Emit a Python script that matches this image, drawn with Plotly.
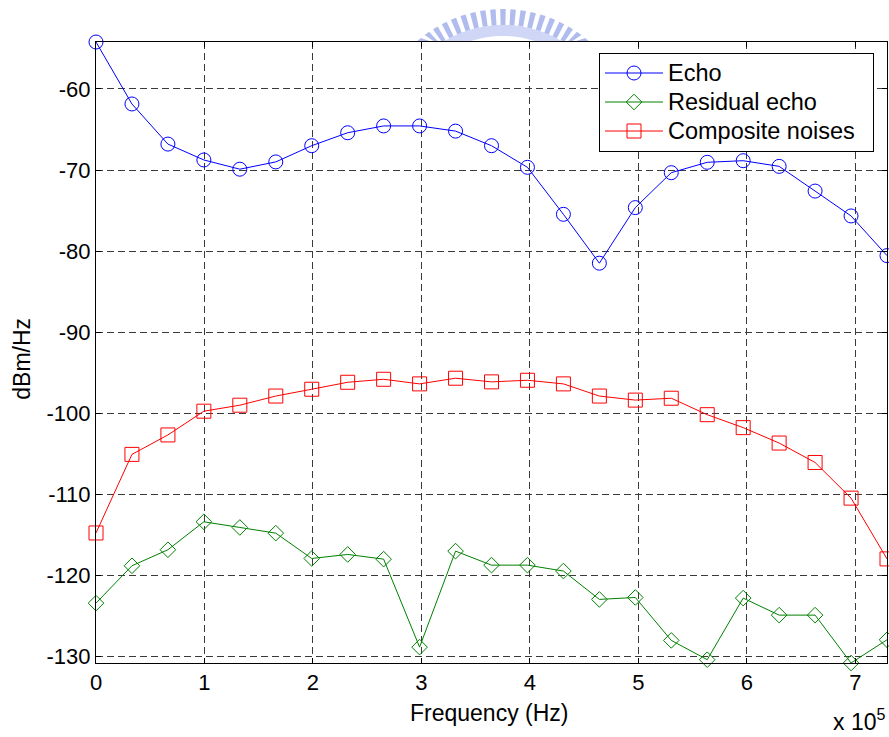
import math
import plotly.graph_objects as go

# Frequency bins (kHz)
freq_khz = [0, 33.14, 66.28, 99.42, 132.56, 165.70, 198.84, 231.98, 265.12, 298.26,
            331.40, 364.54, 397.68, 430.82, 463.96, 497.10, 530.24, 563.38, 596.52,
            629.66, 662.80, 695.94, 729.08]

echo = [-54.2, -61.85, -66.8, -68.76, -69.9, -69.0, -67.0, -65.4, -64.56, -64.56,
        -65.2, -67.0, -69.67, -75.47, -81.5, -74.64, -70.33, -69.05, -68.85, -69.55,
        -72.6, -75.67, -80.57]

residual_echo = [-123.46, -118.85, -116.87, -113.42, -114.12, -114.82, -117.95, -117.45,
                 -118.03, -128.89, -117.04, -118.77, -118.77, -119.5, -123.0, -122.76,
                 -128.06, -130.44, -122.84, -124.94, -124.94, -130.85, -127.98]

composite_noises = [-114.8, -105.1, -102.7, -99.77, -99.03, -97.9, -97.06, -96.2, -95.83,
                    -96.4, -95.7, -96.15, -95.95, -96.4, -97.9, -98.4, -98.17, -100.2,
                    -101.8, -103.7, -106.1, -110.5, -118.0]

x_ticks = [0, 1, 2, 3, 4, 5, 6, 7]          # in units of 1e5 Hz
y_ticks = [-60, -70, -80, -90, -100, -110, -120, -130]

freq_hz = [f * 1000 for f in freq_khz]

FONT = "Liberation Sans, Arial, Helvetica, sans-serif"


def legend_label(text, pad=0):
    # larger glyphs than the legend's base size, which keeps rows compact
    return f'<span style="font-size:23.5px">{text}{chr(160) * pad}</span>'


fig = go.Figure()
series = [
    ("Echo", echo, "#0000ff", "circle-open", 14, 0),
    ("Residual echo", residual_echo, "#008000", "diamond-open", 12, 0),
    ("Composite noises", composite_noises, "#ff0000", "square-open", 14, 2),
]
for name, vals, color, symbol, size, pad in series:
    fig.add_trace(go.Scatter(
        x=freq_hz, y=vals, name=legend_label(name, pad), mode="lines+markers",
        line=dict(color=color, width=1),
        marker=dict(symbol=symbol, size=size, color=color, line=dict(color=color, width=1)),
        cliponaxis=False,
    ))

# Layout geometry (pixels)
W, H = 889, 737
ML, MR, MT, MB = 96, 2, 42, 74
PW, PH = W - ML - MR, H - MT - MB


def to_paper(px, py):
    return (px - ML) / PW, (H - MB - py) / PH


# Light-blue seal emblem peeking over the top of the axes
cx, cy = 503, 140
top_limit = MT - 0.5


def poly_path(points):
    pts = [to_paper(x, min(y, top_limit)) for x, y in points]
    return "M" + "L".join(f"{a:.5f},{b:.5f}" for a, b in pts) + "Z"


shapes = []
seal_color = "rgba(150,165,232,0.75)"
band_color = "rgba(170,182,238,0.55)"
# base band
band = []
for k in range(0, 33):
    t = math.radians(-36 + k * 72 / 32)
    band.append((cx + 115 * math.sin(t), cy - 115 * math.cos(t)))
for k in range(32, -1, -1):
    t = math.radians(-36 + k * 72 / 32)
    band.append((cx + 104 * math.sin(t), cy - 104 * math.cos(t)))
shapes.append(dict(type="path", xref="paper", yref="paper", path=poly_path(band),
                   fillcolor=band_color, line=dict(width=0), layer="below"))
# teeth
n_teeth = 19
for k in range(n_teeth):
    t = math.radians(-40 + k * 80 / (n_teeth - 1))
    hw = math.radians(1.2)
    pts = [
        (cx + 115 * math.sin(t - hw), cy - 115 * math.cos(t - hw)),
        (cx + 131 * math.sin(t - hw), cy - 131 * math.cos(t - hw)),
        (cx + 131 * math.sin(t + hw), cy - 131 * math.cos(t + hw)),
        (cx + 115 * math.sin(t + hw), cy - 115 * math.cos(t + hw)),
    ]
    shapes.append(dict(type="path", xref="paper", yref="paper", path=poly_path(pts),
                       fillcolor=seal_color, line=dict(width=0), layer="below"))

axis_common = dict(
    showline=True, linecolor="black", linewidth=1, mirror="allticks",
    ticks="inside", ticklen=5, tickcolor="black", tickwidth=1,
    showgrid=True, gridcolor="#3a3a3a", gridwidth=1, griddash="7px,4px",
    zeroline=False, tickfont=dict(family=FONT, size=22, color="black"),
)

fig.update_layout(
    width=W, height=H,
    margin=dict(l=ML, r=MR, t=MT, b=MB),
    paper_bgcolor="white", plot_bgcolor="white",
    font=dict(family=FONT, size=22, color="black"),
    xaxis=dict(range=[0, freq_hz[-1]], tickvals=[v * 1e5 for v in x_ticks],
               ticktext=[str(v) for v in x_ticks], **axis_common),
    yaxis=dict(range=[-130.85, -54.2], tickvals=y_ticks,
               ticktext=[str(v) for v in y_ticks], **axis_common),
    legend=dict(x=(874 - ML) / PW, xanchor="right", y=(H - MB - 52.5) / PH, yanchor="top",
                bgcolor="white", bordercolor="black", borderwidth=1,
                font=dict(family=FONT, size=20, color="black"),
                itemwidth=58, tracegroupgap=0),
    showlegend=True,
    shapes=shapes,
    annotations=[
        dict(text="Frequency (Hz)", xref="paper", yref="paper", x=0.497, y=-0.0805,
             xanchor="center", yanchor="middle", showarrow=False,
             font=dict(family=FONT, size=23, color="black")),
        dict(text="dBm/Hz", xref="paper", yref="paper", x=(22 - ML) / PW, y=0.49,
             xanchor="center", yanchor="middle", textangle=-90, showarrow=False,
             font=dict(family=FONT, size=23, color="black")),
        dict(text="x 10<sup>5</sup>", xref="paper", yref="paper", x=(886 - ML) / PW,
             y=(H - MB - 736) / PH, xanchor="right", yanchor="bottom", showarrow=False,
             borderpad=0, font=dict(family=FONT, size=23, color="black")),
    ],
)

fig.write_html("out.html")
